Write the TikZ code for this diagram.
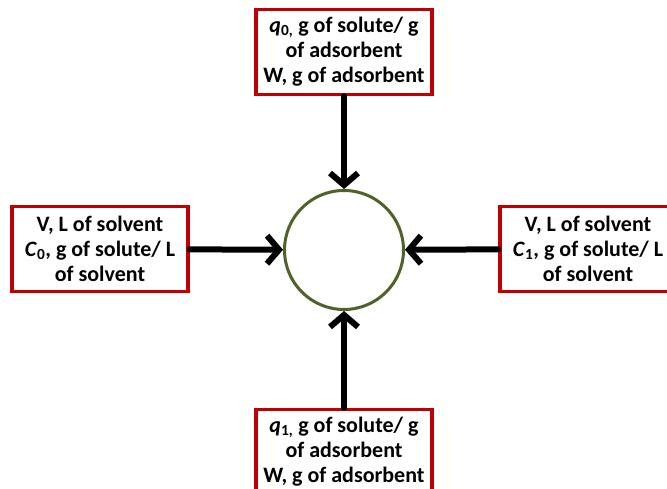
\documentclass[tikz,border=0pt]{standalone}
\usepackage{fontspec}
\setmainfont{Carlito}
\usetikzlibrary{arrows.meta}
\definecolor{boxred}{RGB}{192,0,0}
\definecolor{ringgreen}{RGB}{79,98,40}
\newcommand{\sym}[2]{\textit{#1}\textsubscript{#2}}
\tikzset{
  stream/.style={draw=boxred, line width=3.5pt, fill=white, minimum width=176pt,
    minimum height=85pt, align=center, inner sep=0pt,
    font=\bfseries\fontsize{22}{25}\selectfont},
  flow/.style={line width=6pt, line cap=round,
    -{Straight Barb[length=12pt,width=28pt,line width=6pt]}}
}
\begin{document}
\begin{tikzpicture}[x=1pt,y=-1pt]
		\useasboundingbox (0,0) rectangle (667,489);
		\clip (0,0) rectangle (667,489);
		% 绘制中心圆
		\node[circle, draw=ringgreen, line width=3pt, minimum size=119pt, inner sep=0pt] (c) at (344,250) {};
		% 绘制四个框
		\node[stream] (top) at (344,52) {\sym{q}{0,} g of solute/ g\\ of adsorbent\\ W, g of adsorbent};
		\node[stream] (left) at (100,249) {V, L of solvent\\ \sym{C}{0}, g of solute/ L\\ of solvent};
		\node[stream] (right) at (588,249) {V, L of solvent\\ \sym{C}{1}, g of solute/ L\\ of solvent};
		\node[stream] (bottom) at (344,452) {\sym{q}{1,} g of solute/ g\\ of adsorbent\\ W, g of adsorbent};
		% 绘制箭头
		\draw[flow] (top) -- (c);
		\draw[flow] (bottom) -- (c);
		\draw[flow] (left) -- (c);
		\draw[flow] (right) -- (c);
	\end{tikzpicture}
\end{document}
